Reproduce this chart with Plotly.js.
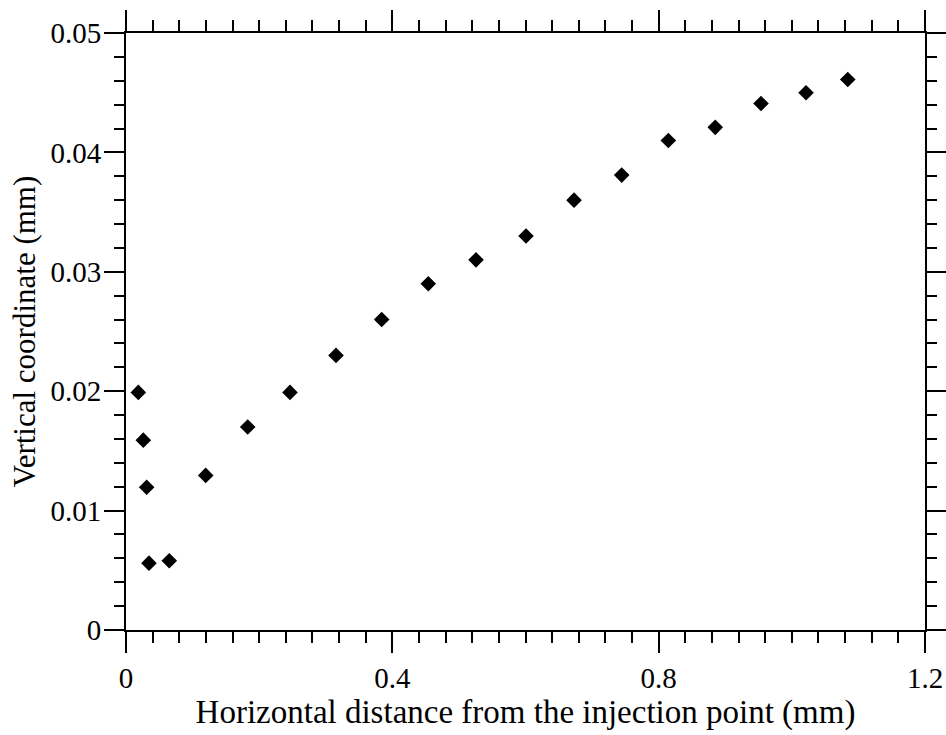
<!DOCTYPE html>
<html>
<head>
<meta charset="utf-8">
<script src="https://cdn.plot.ly/plotly-3.0.1.min.js"></script>
<style>html,body{margin:0;padding:0;background:#fff;}#chart{width:946px;height:735px;}</style>
</head>
<body>
<div id="chart"></div>
<script>
const xDistance = [0.0185, 0.026, 0.031, 0.0345, 0.065, 0.1197, 0.1828, 0.2463, 0.3154, 0.384, 0.454, 0.5257, 0.6008, 0.6729, 0.7445, 0.8145, 0.885, 0.9537, 1.0213, 1.084];
const yVertical = [0.0199, 0.0159, 0.01195, 0.0056, 0.0058, 0.01295, 0.017, 0.0199, 0.023, 0.026, 0.029, 0.031, 0.033, 0.036, 0.0381, 0.041, 0.0421, 0.0441, 0.045, 0.0461];
const xTickVals = [0, 0.4, 0.8, 1.2];
const xTickText = ["0", "0.4", "0.8", "1.2"];
const yTickVals = [0, 0.01, 0.02, 0.03, 0.04, 0.05];
const yTickText = ["0", "0.01", "0.02", "0.03", "0.04", "0.05"];

const font = {family: "Liberation Serif, serif", color: "#000"};

const trace = {
  x: xDistance, y: yVertical, type: "scatter", mode: "markers",
  marker: {symbol: "diamond", size: 12, color: "#000"},
  hoverinfo: "x+y"
};

const layout = {
  width: 946, height: 735,
  margin: {l: 126, r: 21, t: 33, b: 104.5, pad: 0},
  paper_bgcolor: "#fff", plot_bgcolor: "#fff",
  showlegend: false,
  font: Object.assign({size: 29}, font),
  xaxis: {
    range: [0, 1.2], tickmode: "array", tickvals: xTickVals, ticktext: xTickText,
    ticks: "outside", ticklen: 21, tickwidth: 2, tickcolor: "#000",
    showline: true, linewidth: 2, linecolor: "#000", mirror: "ticks",
    showgrid: false, zeroline: false,
    minor: {dtick: 0.04, ticks: "outside", ticklen: 11, tickwidth: 2, tickcolor: "#000", showgrid: false},
    tickfont: Object.assign({size: 29}, font),
    title: {text: "Horizontal distance from the injection point (mm)", font: Object.assign({size: 33}, font), standoff: 1}
  },
  yaxis: {
    range: [0, 0.05], tickmode: "array", tickvals: yTickVals, ticktext: yTickText,
    ticks: "outside", ticklen: 20, tickwidth: 2, tickcolor: "#000",
    showline: true, linewidth: 2, linecolor: "#000", mirror: "ticks",
    showgrid: false, zeroline: false, ticklabelstandoff: -3,
    minor: {dtick: 0.002, ticks: "outside", ticklen: 10, tickwidth: 2, tickcolor: "#000", showgrid: false},
    tickfont: Object.assign({size: 29}, font),
    title: {text: "Vertical coordinate (mm)", font: Object.assign({size: 31}, font), standoff: 6}
  }
};

Plotly.newPlot("chart", [trace], layout, {displayModeBar: false, staticPlot: true});
</script>
</body>
</html>
